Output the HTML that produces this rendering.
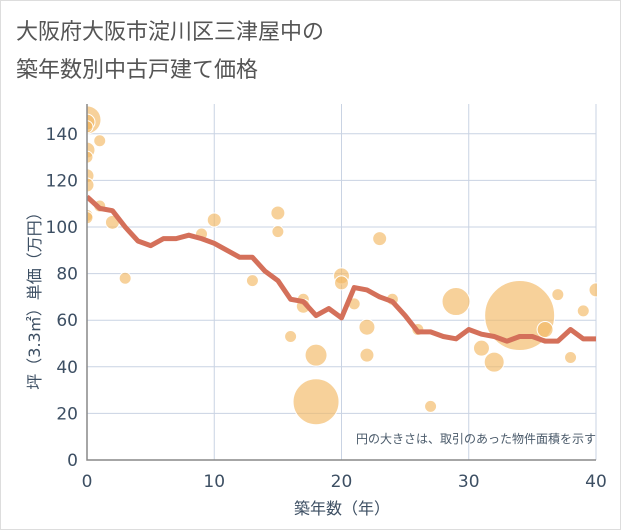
<!DOCTYPE html>
<html><head><meta charset="utf-8"><style>
body{margin:0;background:#fff;font-family:"DejaVu Sans","Noto Sans CJK JP",sans-serif;}
#wrap{position:relative;width:621px;height:530px;border:1px solid #ddd;box-sizing:border-box;}
</style></head><body>
<div id="wrap">
<svg id="chart" width="621" height="530" style="position:absolute;left:-1px;top:-1px">
<defs><clipPath id="pc"><rect x="87" y="104" width="510" height="357"/></clipPath></defs>
<text x="16" y="39" font-size="22" fill="#555" font-family="DejaVu Sans, Noto Sans CJK JP, sans-serif">大阪府大阪市淀川区三津屋中の</text>
<text x="16" y="77" font-size="22" fill="#555" font-family="DejaVu Sans, Noto Sans CJK JP, sans-serif">築年数別中古戸建て価格</text>
<g id="grid"></g><g id="bubbles" clip-path="url(#pc)"></g><g id="line" clip-path="url(#pc)"></g><g id="axes"></g>
<text x="596" y="443" font-size="12" fill="#4a5a6a" text-anchor="end" font-family="DejaVu Sans, Noto Sans CJK JP, sans-serif">円の大きさは、取引のあった物件面積を示す</text>
<text x="342" y="514" font-size="16" fill="#3d4f63" text-anchor="middle" font-family="DejaVu Sans, Noto Sans CJK JP, sans-serif">築年数（年）</text>
<text transform="translate(40,297) rotate(-90)" font-size="16" fill="#3d4f63" text-anchor="middle" font-family="DejaVu Sans, Noto Sans CJK JP, sans-serif">坪（3.3㎡）単価（万円）</text>
</svg></div>
<script>
const xTicks=[0,10,20,30,40];
const yTicks=[0,20,40,60,80,100,120,140];
const bubbleX=[0,0,0,0,0,0,0,0,0,1,1,2,3,9,10,13,15,15,16,17,17,18,18,20,20,21,22,22,23,24,26,27,29,31,32,34,36,37,38,39,40];
const bubbleY=[146,145,143,133,130,122,118,105,104,137,109,102,78,97,103,77,106,98,53,69,66,45,25,79,76,67,57,45,95,69,56,23,68,48,42,62,56,71,44,64,73];
const bubbleR=[14,8,6,8,6,7,7,6,6,6,6,7,6,6,7,6,7,6,6,6,7,11,23,8,7,6,8,7,7,6,6,6,14,8,10,35,8,6,6,6,7];
const lineYears=[0,1,2,3,4,5,6,7,8,9,10,11,12,13,14,15,16,17,18,19,20,21,22,23,24,25,26,27,28,29,30,31,32,33,34,35,36,37,38,39,40];
const lineVals=[113,108,107,100,94,92,95,95,96.5,95,93,90,87,87,81,77,69,68,62,65,61,74,73,70,68,62,55,55,53,52,56,54,53,51,53,53,51,51,56,52,52];
const NS="http://www.w3.org/2000/svg";
const X0=87,X1=596,Y0=460,YT=104;
const xs=v=>X0+(X1-X0)*v/40;
const ys=v=>Y0-v*2.33;
function mk(tag,attrs,parent){const e=document.createElementNS(NS,tag);for(const k in attrs)e.setAttribute(k,attrs[k]);document.getElementById(parent).appendChild(e);return e;}
yTicks.forEach(t=>{
 const l=mk('line',{x1:X0,x2:X1,y1:ys(t),y2:ys(t),stroke:'#c9d3e3','stroke-width':1},'grid');
 
 
 const tx=mk('text',{x:78,y:ys(t)+6,'font-size':17,fill:'#3d4f63','text-anchor':'end'},'axes');
 tx.textContent=t;
 
 
});
xTicks.forEach(t=>{
 const l=mk('line',{x1:xs(t),x2:xs(t),y1:YT,y2:Y0,stroke:'#c9d3e3','stroke-width':1},'grid');
 
 
 const tx=mk('text',{x:xs(t),y:487,'font-size':17,fill:'#3d4f63','text-anchor':'middle'},'axes');
 tx.textContent=t;
 
 
});
const ax=mk('path',{d:`M${X0},${YT}V${Y0}H${X1}`,fill:'none',stroke:'#888','stroke-width':1.5},'axes');


bubbleX.forEach((x,i)=>{
 const c=mk('circle',{cx:xs(x),cy:ys(bubbleY[i]),r:bubbleR[i],fill:'rgba(242,185,100,0.65)',stroke:'#fff','stroke-width':1},'bubbles');
 
 
});
const p=mk('polyline',{points:lineYears.map((y,i)=>xs(y)+','+ys(lineVals[i])).join(' '),fill:'none',stroke:'#d4705a','stroke-width':5,'stroke-linejoin':'round'},'line');


</script>
</body></html>
